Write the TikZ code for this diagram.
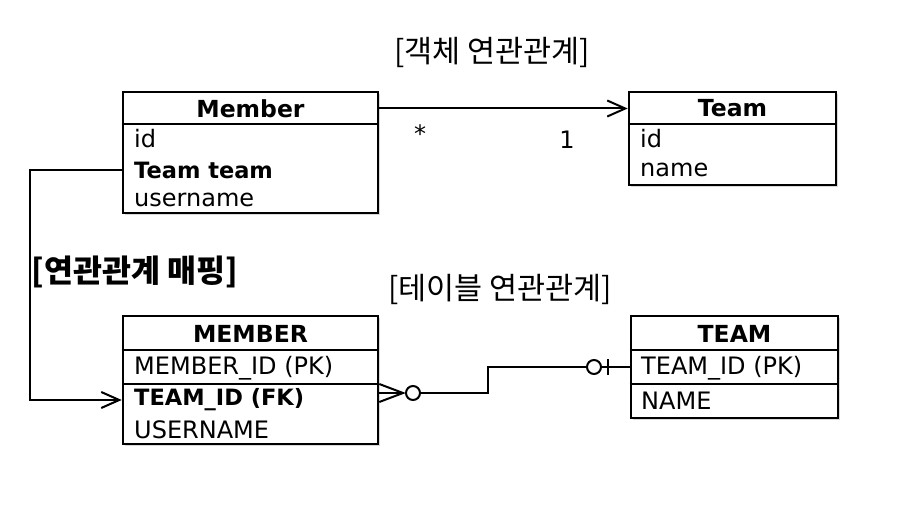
\documentclass[tikz,border=0pt]{standalone}
\usepackage{fontspec}
\setmainfont{DejaVu Sans}
\newfontfamily\krfont{Noto Sans CJK KR}
\usetikzlibrary{arrows.meta,shadows}
\newcommand\hdrsize{\fontsize{23.5}{26}\selectfont\bfseries}
\newcommand\rowsize{\fontsize{24}{28}\selectfont}
\newcommand\keysize{\fontsize{22.5}{26}\selectfont\bfseries}
\newcommand\krsize{\krfont\fontsize{30.5}{34}\selectfont}
\newcommand\krbold{\krfont\bfseries\fontsize{31.5}{34}\selectfont}

\begin{document}
\begin{tikzpicture}[x=1pt, y=-1pt]
        \tikzstyle{every node}=[inner sep=0pt]
        \tikzstyle{tbl}=[draw, line width=2.6pt, fill=white, drop shadow={shadow xshift=2pt, shadow yshift=-2pt, opacity=0.3}]
        \tikzstyle{sep}=[line width=2pt]
        \tikzstyle{hdr}=[font=\hdrsize]
        \tikzstyle{row}=[anchor=west, font=\rowsize]
        \tikzstyle{keyrow}=[anchor=west, font=\keysize]
        \tikzstyle{title}=[font=\krsize]
        \tikzstyle{rel}=[line width=2pt]
        \tikzstyle{opn}=[rel, -{Straight Barb[length=18pt, width=16pt]}]
        \tikzstyle{ring}=[circle, draw, line width=2pt, fill=white, minimum size=14pt]
        \useasboundingbox (0,0) rectangle (905,508);
        % object model
        \node [title] (objtitle) at (492,52) {[객체 연관관계]};
        \node [tbl, minimum width=255pt, minimum height=121pt] (member) at (250.5,152.5) {};
        \draw [sep] ([yshift=-33pt]member.north west) -- ([yshift=-33pt]member.north east);
        \node [hdr] (memberh) at (250.5,108.5) {Member};
        \node [row] (memberid) at (134,139) {id};
        \node [keyrow] (memberteam) at (134,170) {Team team};
        \node [row] (membername) at (134,200) {username};
        \node [tbl, minimum width=207pt, minimum height=93pt] (team) at (732.5,138.5) {};
        \draw [sep] ([yshift=-33pt]team.north west) -- ([yshift=-33pt]team.north east);
        \node [hdr] (teamh) at (732.5,108.5) {Team};
        \node [row] (teamid) at (640,139) {id};
        \node [row] (teamname) at (640,170) {name};
        \draw [opn] (memberh -| member.east) -- (memberh -| team.west);
        \node [row, anchor=center] (many) at (420,134) {*};
        \node [row, anchor=center] (one) at (567,140) {1};
        % table model
        \node [title] (dbtitle) at (500,289) {[테이블 연관관계]};
        \node [title, font=\krbold] (maptitle) at (135,272) {[연관관계 매핑]};
        \node [tbl, minimum width=255pt, minimum height=128pt] (dbmember) at (250.5,380) {};
        \draw [sep] ([yshift=-35pt]dbmember.north west) -- ([yshift=-35pt]dbmember.north east);
        \draw [sep] ([yshift=-69pt]dbmember.north west) -- ([yshift=-69pt]dbmember.north east);
        \node [hdr] (dbmemberh) at (250.5,333.5) {MEMBER};
        \node [row] (mpk) at (134,368) {MEMBER\_ID (PK)};
        \node [keyrow] (mfk) at (134,400) {TEAM\_ID (FK)};
        \node [row] (mname) at (134,430) {USERNAME};
        \node [tbl, minimum width=207pt, minimum height=102pt] (dbteam) at (734.5,367) {};
        \draw [sep] ([yshift=-35pt]dbteam.north west) -- ([yshift=-35pt]dbteam.north east);
        \draw [sep] ([yshift=-69pt]dbteam.north west) -- ([yshift=-69pt]dbteam.north east);
        \node [hdr] (dbteamh) at (734.5,333.5) {TEAM};
        \node [row] (tpk) at (641,368) {TEAM\_ID (PK)};
        \node [row] (tname) at (641,401) {NAME};
        % mapping arrow
        \coordinate (bend) at (30,170);
        \draw [opn] (memberteam -| member.west) -- (bend) |- (mfk -| dbmember.west);
        % crow's foot and rings
        \coordinate (foot) at (403,393);
        \draw [rel] (foot -| dbmember.east) -- (foot);
        \draw [rel] ([yshift=9pt]foot -| dbmember.east) -- (foot) -- ([yshift=-9pt]foot -| dbmember.east);
        \node [ring] (ringm) at (413,393) {};
        \node [ring] (ringt) at (594,367) {};
        \coordinate (jog) at (488,380);
        \draw [rel] (ringm) -| (jog) |- (ringt);
        \draw [rel] (ringt) -- (ringt -| dbteam.west);
        \draw [rel] ([xshift=14pt, yshift=8pt]ringt.center) -- ([xshift=14pt, yshift=-8pt]ringt.center);
    \end{tikzpicture}
\end{document}
